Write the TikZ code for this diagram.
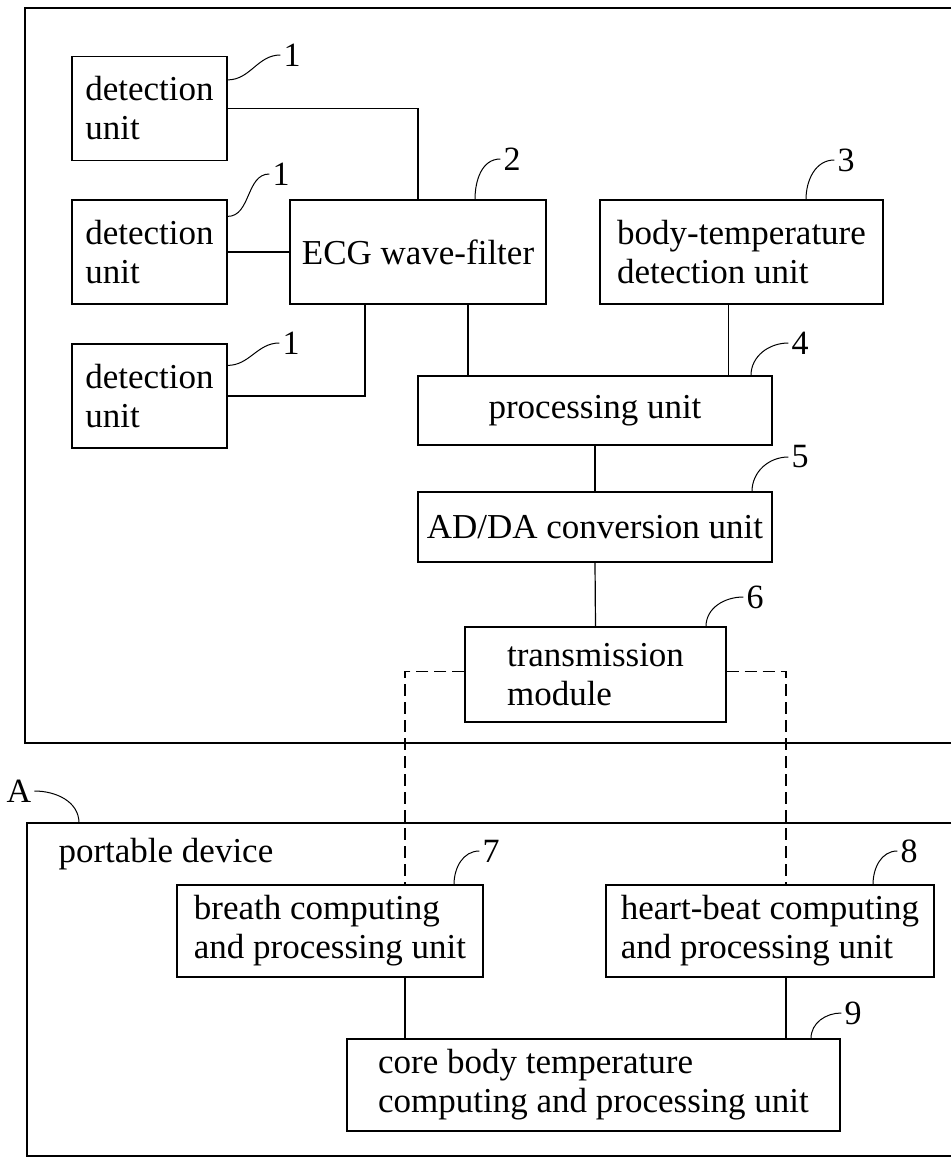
\documentclass[tikz,border=0pt]{standalone}
\usepackage{fontspec}
\setmainfont{Liberation Serif}
\usetikzlibrary{calc}
\tikzset{blk/.style={draw, line width=1.2pt, align=left, inner sep=0pt, font=\fontsize{35}{39}\selectfont},
  tag/.style={font=\fontsize{34}{34}\selectfont, inner sep=3pt},
  lnk/.style={line width=1.2pt},
  ldr/.style={line width=1pt},
  wls/.style={line width=1.1pt, dash pattern=on 12pt off 6pt},
  frm/.style={line width=1.4pt}}

\begin{document}
\begin{tikzpicture}[x=1pt, y=-1pt]
  \useasboundingbox (0,0) rectangle (951,1157);
  % frames
  \draw[frm] (951,8) -- (25,8) -- (25,743) -- (951,743);
  \draw[frm] (951,823) -- (27,823) -- (27,1156) -- (951,1156);
  \node[anchor=base west, font=\fontsize{35}{39}\selectfont] (port) at (55,862) {portable device};
  \node[tag] (na) at (19,791) {A};
  \coordinate (fa) at (79,823);
  \draw[ldr] (na.east) to[out=0, in=90] (fa);

  % sensing side
  \node[blk, minimum width=155, minimum height=104] (det1) at (149.5,108.5) {detection\\unit};
  \node[blk, minimum width=155, minimum height=104] (det2) at (149.5,252) {detection\\unit};
  \node[blk, minimum width=155, minimum height=104] (det3) at (149.5,396) {detection\\unit};
  \node[blk, minimum width=256, minimum height=104] (ecg) at (418,252) {ECG wave-filter};
  \node[blk, minimum width=283, minimum height=104] (temp) at (741.5,252) {body-temperature\\detection unit};
  \node[blk, minimum width=354, minimum height=69] (proc) at (595,410.5) {processing unit};
  \node[blk, minimum width=354, minimum height=70] (adda) at (595,527) {AD/DA conversion unit};
  \node[blk, minimum width=261, minimum height=95] (trans) at (595.5,674.5) {transmission\\module};

  % portable device
  \node[blk, minimum width=306, minimum height=92] (breath) at (330,931) {breath computing\\and processing unit};
  \node[blk, minimum width=328, minimum height=92] (heart) at (770,931) {heart-beat computing\\and processing unit};
  \node[blk, minimum width=493, minimum height=92] (core) at (593.5,1085) {core body temperature\\computing and processing unit};

  % connectors
  \draw[lnk] (det1.east) -| (ecg.north);
  \draw[lnk] (det2.east) -- (ecg.west);
  \draw[lnk] (det3.east) -| ([xshift=-53pt]ecg.south);
  \draw[lnk] ([xshift=50pt]ecg.south) -- ([xshift=50pt]ecg.south |- proc.north);
  \draw[lnk] ([xshift=-13pt]temp.south) -- ([xshift=-13pt]temp.south |- proc.north);
  \draw[lnk] (proc.south) -- (adda.north);
  \draw[lnk] (adda.south) -- (trans.north);
  \draw[wls] ([yshift=3pt]trans.west) -| ([xshift=75pt]breath.north);
  \draw[wls] ([yshift=3pt]trans.east) -| ([xshift=16pt]heart.north);
  \draw[lnk] ([xshift=75pt]breath.south) -- ([xshift=75pt]breath.south |- core.north);
  \draw[lnk] ([xshift=16pt]heart.south) -- ([xshift=16pt]heart.south |- core.north);

  % reference numerals
  \node[tag] (n1a) at (292,55) {1};
  \node[tag] (n1b) at (281,174) {1};
  \node[tag] (n1c) at (291,343) {1};
  \node[tag] (n2) at (512,159) {2};
  \node[tag] (n3) at (846,160) {3};
  \node[tag] (n4) at (800,343) {4};
  \node[tag] (n5) at (800,457) {5};
  \node[tag] (n6) at (755,597) {6};
  \node[tag] (n7) at (491,851) {7};
  \node[tag] (n8) at (909,851) {8};
  \node[tag] (n9) at (853,1013) {9};
  \draw[ldr] ([yshift=-24pt]det1.north east) to[out=0, in=180] (n1a.west);
  \draw[ldr] ([yshift=-17pt]det2.north east) to[out=0, in=180] (n1b.west);
  \draw[ldr] ([yshift=-22pt]det3.north east) to[out=0, in=180] (n1c.west);
  \draw[ldr] ([xshift=57pt]ecg.north) to[out=90, in=180] (n2.west);
  \draw[ldr] ([xshift=64.5pt]temp.north) to[out=90, in=180] (n3.west);
  \draw[ldr] ([xshift=156pt]proc.north) to[out=90, in=180] (n4.west);
  \draw[ldr] ([xshift=157pt]adda.north) to[out=90, in=180] (n5.west);
  \draw[ldr] ([xshift=110.5pt]trans.north) to[out=90, in=180] (n6.west);
  \draw[ldr] ([xshift=124pt]breath.north) to[out=90, in=180] (n7.west);
  \draw[ldr] ([xshift=103pt]heart.north) to[out=90, in=180] (n8.west);
  \draw[ldr] ([xshift=217.5pt]core.north) to[out=90, in=180] (n9.west);
\end{tikzpicture}
\end{document}
